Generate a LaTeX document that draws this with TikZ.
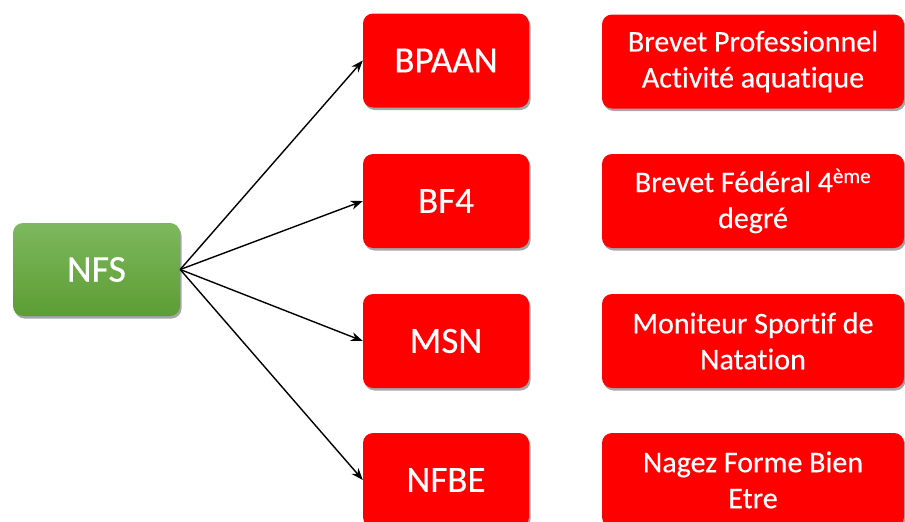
\documentclass[tikz,border=0pt]{standalone}
\usepackage{fontspec}
\setmainfont{Carlito}[Ligatures=NoCommon, FakeBold=0.4]
\usetikzlibrary{shadows,arrows.meta}
\definecolor{boxred}{HTML}{FF0000}
\definecolor{greentop}{HTML}{7DB85E}
\definecolor{greenbot}{HTML}{5C9D33}
\tikzset{
  basebox/.style={rounded corners=10pt, text=white, inner sep=0pt, align=center,
    drop shadow={shadow xshift=1.5pt, shadow yshift=-2.5pt, opacity=0.35, fill=black}},
  redsmall/.style={basebox, fill=boxred, minimum width=166pt, minimum height=94pt,
    font=\fontsize{37}{42}\selectfont},
  redwide/.style={basebox, fill=boxred, minimum width=302pt, minimum height=94pt,
    font=\fontsize{30}{36}\selectfont},
  greenbox/.style={basebox, top color=greentop, bottom color=greenbot,
    minimum width=167pt, minimum height=93pt, font=\fontsize{38}{42}\selectfont},
  link/.style={-{Stealth[length=12pt,width=9pt]}, line width=1.4pt, black}
}
\begin{document}
\begin{tikzpicture}[x=1pt,y=-1pt]
\useasboundingbox (0,0) rectangle (905,522);
\clip (0,0) rectangle (905,522);
\node[greenbox] (nfs) at (96.5,269.5) {NFS};
\node[redsmall] (bpaan) at (446,60.5) {BPAAN};
\node[redsmall] (bf4) at (446,201) {BF4};
\node[redsmall] (msn) at (446,341) {MSN};
\node[redsmall] (nfbe) at (446,480) {NFBE};
\node[redwide] (t1) at (753,61.5) {Brevet Professionnel\\Activité aquatique};
\node[redwide] (t2) at (753,201) {Brevet Fédéral 4\textsuperscript{ème}\\degré};
\node[redwide] (t3) at (753,341) {Moniteur Sportif de\\Natation};
\node[redwide] (t4) at (753,480) {Nagez Forme Bien\\Etre};
\draw[link] (nfs.east) -- (bpaan.west);
\draw[link] (nfs.east) -- (bf4.west);
\draw[link] (nfs.east) -- (msn.west);
\draw[link] (nfs.east) -- (nfbe.west);
\end{tikzpicture}
\end{document}
